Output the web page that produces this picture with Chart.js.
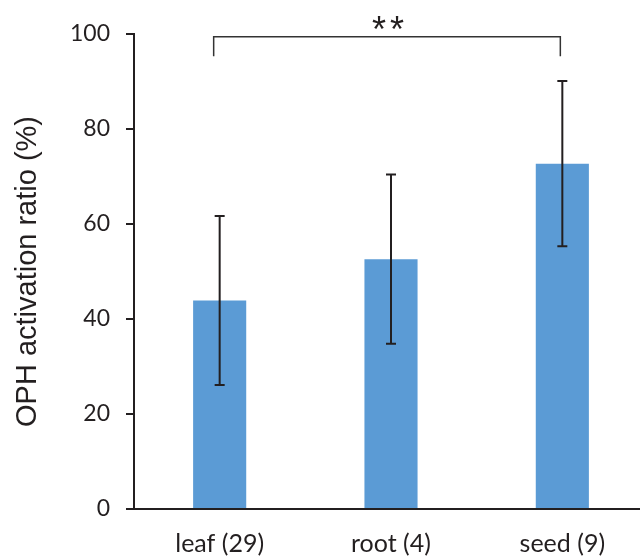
<!DOCTYPE html>
<html>
<head>
<meta charset="utf-8">
<script src="https://cdn.jsdelivr.net/npm/chart.js@4"></script>
<style>
  html, body { margin: 0; padding: 0; background: #fff; overflow: hidden; }
  #wrap { width: 648px; height: 557px; }
</style>
</head>
<body>
<div id="wrap"><canvas id="barChart"></canvas></div>
<script>
// data
const categories = ['leaf (29)', 'root (4)', 'seed (9)'];
const ratios = [43.9, 52.6, 72.7];
const errors = [17.8, 17.8, 17.4];
const yTicks = [0, 20, 40, 60, 80, 100];
// significance bracket: between category indexes, top value, leg end value, label
const sigPair = [0, 2];
const sigTop = 99.4;
const sigLegEnd = 95.3;
const sigLabel = ['*', '*'];

const ink = '#231f20';

// error bars + bracket drawn on the scales
const errorBars = {
    id: 'errorBars',
    afterDatasetsDraw(chart) {
        const ctx = chart.ctx;
        const x = chart.scales.x, y = chart.scales.y;
        ctx.save();
        ctx.strokeStyle = ink;
        ctx.lineWidth = 2;
        ratios.forEach(function (v, i) {
            const px = x.getPixelForValue(i);
            const top = y.getPixelForValue(v + errors[i]);
            const bot = y.getPixelForValue(v - errors[i]);
            ctx.beginPath();
            ctx.moveTo(px, top); ctx.lineTo(px, bot);
            ctx.moveTo(px - 5, top); ctx.lineTo(px + 5, top);
            ctx.moveTo(px - 5, bot); ctx.lineTo(px + 5, bot);
            ctx.stroke();
        });
        // bracket
        const x1 = x.getPixelForValue(sigPair[0]) - 6;
        const x2 = x.getPixelForValue(sigPair[1]) - 2;
        const yt = y.getPixelForValue(sigTop);
        const yl = y.getPixelForValue(sigLegEnd);
        ctx.strokeStyle = '#333';
        ctx.lineWidth = 1.5;
        ctx.beginPath();
        ctx.moveTo(x1, yl); ctx.lineTo(x1, yt); ctx.lineTo(x2, yt); ctx.lineTo(x2, yl);
        ctx.stroke();
        ctx.fillStyle = ink;
        ctx.font = '36px "Liberation Sans"';
        ctx.textAlign = 'center';
        ctx.textBaseline = 'alphabetic';
        const mid = (x1 + x2) / 2 + 1;
        ctx.fillText(sigLabel[0], mid - 9, yt + 5);
        ctx.fillText(sigLabel[1], mid + 9, yt + 5);
        ctx.restore();
    }
};

//setup
const data = {
    labels: categories,
    datasets: [{
        data: ratios,
        backgroundColor: '#5b9bd5',
        borderWidth: 0,
        barPercentage: 0.31,
        categoryPercentage: 1.0
    }]
};

// configuration
const config = {
    type: 'bar',
    data: data,
    options: {
        responsive: true,
        maintainAspectRatio: false,
        animation: false,
        layout: { padding: { top: 34, left: 0, right: 0, bottom: 0 } },
        plugins: { legend: { display: false }, tooltip: { enabled: false } },
        scales: {
            x: {
                grid: { display: false },
                border: { display: true, color: ink, width: 2 },
                ticks: { color: ink, font: { family: 'Lato', size: 25 }, padding: 12 },
                afterFit: function (scale) { scale.height = 48; }
            },
            y: {
                min: 0,
                max: 100,
                afterBuildTicks: function (scale) {
                    scale.ticks = yTicks.map(function (v) { return { value: v }; });
                },
                grid: { display: true, drawOnChartArea: false, drawTicks: true, tickLength: 8, color: ink, lineWidth: 2 },
                border: { display: true, color: ink, width: 2 },
                ticks: { color: ink, font: { family: 'Lato', size: 23 }, padding: 16 },
                title: {
                    display: true,
                    text: 'OPH activation ratio (%)',
                    color: ink,
                    font: { family: 'Liberation Sans', size: 29 },
                    padding: { top: 11, bottom: 0 }
                },
                afterFit: function (scale) { scale.width = 134; }
            }
        }
    },
    plugins: [errorBars]
};

//render
var myChart = new Chart(
    document.getElementById('barChart'),
    config
);
</script>
</body>
</html>
